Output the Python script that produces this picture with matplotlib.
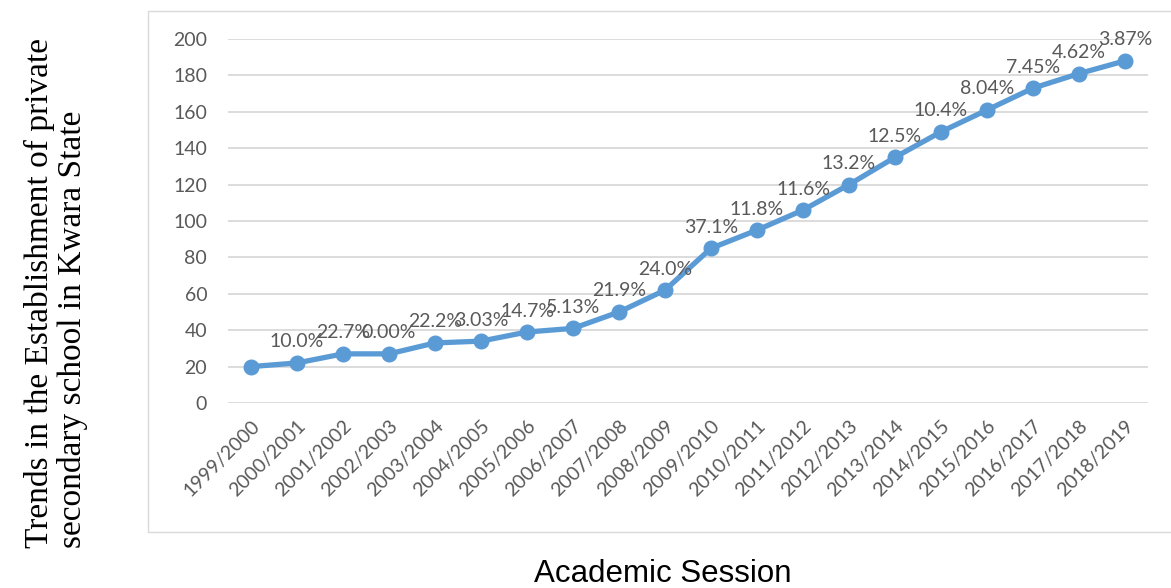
import matplotlib.pyplot as plt
from matplotlib.patches import Rectangle

sessions = ['1999/2000', '2000/2001', '2001/2002', '2002/2003', '2003/2004',
            '2004/2005', '2005/2006', '2006/2007', '2007/2008', '2008/2009',
            '2009/2010', '2010/2011', '2011/2012', '2012/2013', '2013/2014',
            '2014/2015', '2015/2016', '2016/2017', '2017/2018', '2018/2019']
schools = [20, 22, 27, 27, 33, 34, 39, 41, 50, 62,
           85, 95, 106, 120, 135, 149, 161, 173, 181, 188]
growth_labels = ['', '10.0%', '22.7%', '0.00%', '22.2%', '3.03%', '14.7%', '5.13%',
                 '21.9%', '24.0%', '37.1%', '11.8%', '11.6%', '13.2%', '12.5%',
                 '10.4%', '8.04%', '7.45%', '4.62%', '3.87%']
y_ticks = [0, 20, 40, 60, 80, 100, 120, 140, 160, 180, 200]

blue = '#5B9BD5'
grey_text = '#595959'
grid_grey = '#D9D9D9'

fig = plt.figure(figsize=(11.71, 5.88), dpi=100)
ax = fig.add_axes([228 / 1171, 1 - 403 / 588, 920 / 1171, 364 / 588])

# chart area border
fig.patches.append(Rectangle((148 / 1171, 1 - 532 / 588), 1.05, 521.5 / 588,
                             transform=fig.transFigure, fill=False,
                             edgecolor=grid_grey, linewidth=1.0))

x = list(range(len(sessions)))
ax.plot(x, schools, color=blue, linewidth=3.8, marker='o', markersize=10.5,
        solid_capstyle='round', zorder=3)

for xi, yi, lab in zip(x, schools, growth_labels):
    if lab:
        ax.annotate(lab, (xi, yi), xytext=(0, 9), textcoords='offset points',
                    ha='center', va='bottom', fontsize=14, family='Lato',
                    color=grey_text, zorder=4)

ax.set_xlim(-0.5, len(sessions) - 0.5)
ax.set_ylim(0, 200)
ax.set_yticks(y_ticks)
ax.set_xticks(x)
ax.set_xticklabels(sessions, rotation=45, ha='right', rotation_mode='anchor')
for lab in ax.get_xticklabels() + ax.get_yticklabels():
    lab.set_family('Lato')
    lab.set_fontsize(14)
    lab.set_color(grey_text)
ax.tick_params(axis='both', length=0)
ax.tick_params(axis='y', pad=15)
ax.tick_params(axis='x', pad=10)

ax.grid(axis='y', color=grid_grey, linewidth=1.3)
ax.set_axisbelow(True)
for s in ax.spines.values():
    s.set_visible(False)

fig.text(56 / 1171, 1 - 548 / 588,
         'Trends in the Establishment of private\nsecondary school in Kwara State',
         rotation=90, ha='center', va='bottom', multialignment='left',
         family='Liberation Serif', fontsize=24, linespacing=1.05)
fig.text(663 / 1171, 1 - 582 / 588, 'Academic Session', ha='center',
         va='baseline', family='Liberation Sans', fontsize=22.5)

fig.savefig('out.png', dpi=100)
